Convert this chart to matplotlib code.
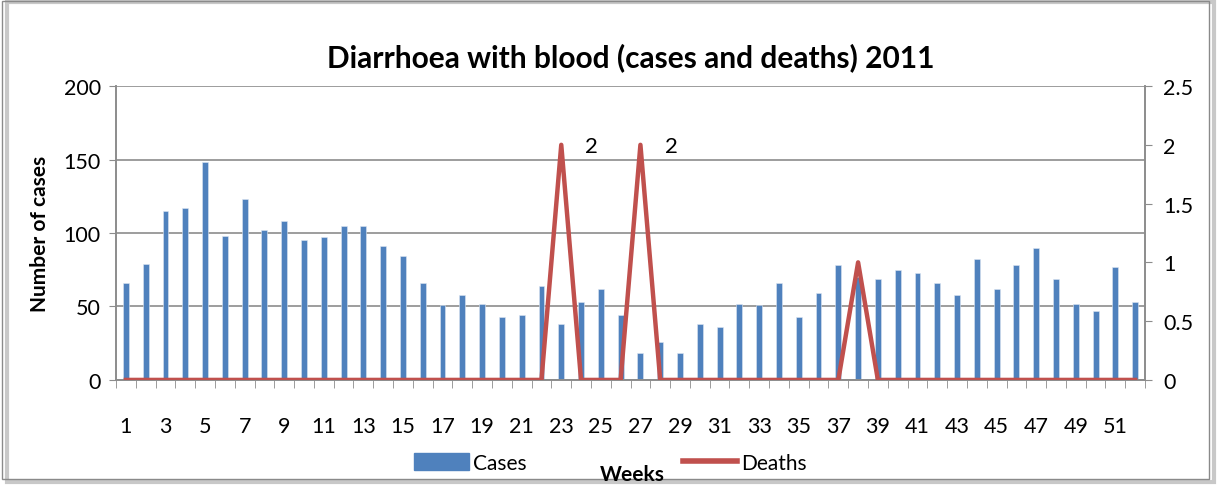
import matplotlib
matplotlib.use("Agg")
import matplotlib.pyplot as plt
import matplotlib.patches as mpatches
from matplotlib.lines import Line2D
import numpy as np

plt.rcParams["font.family"] = ["Lato", "DejaVu Sans"]

weeks = list(range(1, 53))
cases = [66, 79, 115, 117, 148, 98, 123, 102, 108, 95, 97, 105, 105, 91, 84, 66,
         51, 58, 52, 43, 44, 64, 38, 53, 62, 44, 18, 26, 18, 38, 36, 52, 51, 66,
         43, 59, 78, 70, 69, 75, 73, 66, 58, 82, 62, 78, 90, 69, 52, 47, 77, 53]
deaths = [0] * 52
deaths[22] = 2
deaths[26] = 2
deaths[37] = 1
labelled = [23, 27]

BAR = "#4F81BD"
LINE = "#C0504D"
GRID = "#8C8C8C"

fig = plt.figure(figsize=(12.21, 4.89), dpi=100)
fig.patch.set_facecolor("white")
# outer chart frame with a little shadow
fig.add_artist(mpatches.Rectangle((0.006, 0.012), 0.988, 0.982, transform=fig.transFigure,
                                  fill=False, edgecolor="#C8C8C8", linewidth=3))
fig.add_artist(mpatches.Rectangle((0.002, 0.018), 0.988, 0.978, transform=fig.transFigure,
                                  fill=False, edgecolor="#8A8A8A", linewidth=1))

ax = fig.add_axes([0.095, 0.221, 0.8428, 0.601])
ax2 = ax.twinx()

ax.bar(weeks, cases, width=0.3, color=BAR, edgecolor="#DCE6F2", linewidth=0.4, zorder=2)
ax.set_ylim(0, 200)
ax.set_xlim(0.5, 52.5)
ax.set_yticks([0, 50, 100, 150, 200])
ax.grid(axis="y", color=GRID, linewidth=1.2, zorder=0)
ax.set_axisbelow(True)

ax2.plot(weeks, deaths, color=LINE, linewidth=3.2, zorder=3)
ax2.set_ylim(0, 2.5)
ax2.set_yticks([0, 0.5, 1, 1.5, 2, 2.5])
ax2.set_yticklabels(["0", "0.5", "1", "1.5", "2", "2.5"])
for w in labelled:
    ax2.annotate(str(deaths[w - 1]), (w, deaths[w - 1]), xytext=(22, -1),
                 textcoords="offset points", ha="center", va="center", fontsize=16)

ax.set_xticks(weeks[::2])
ax.set_xticklabels([str(w) for w in weeks[::2]])
ax.set_xticks(np.arange(0.5, 53, 1), minor=True)
ax.tick_params(axis="x", which="major", length=0, pad=26, labelsize=15.5)
ax.tick_params(axis="x", which="minor", length=6, color=GRID)
ax.tick_params(axis="y", labelsize=15.5, length=5, color=GRID, pad=6)
ax2.tick_params(axis="y", labelsize=15.5, length=5, color=GRID, pad=8)

for a in (ax, ax2):
    a.spines["top"].set_visible(False)
    for s in ("left", "right", "bottom"):
        a.spines[s].set_color(GRID)
        a.spines[s].set_linewidth(1.2)

ax.set_ylabel("Number of cases", fontsize=15, fontweight="bold", labelpad=10)
ax.set_title("Diarrhoea with blood (cases and deaths) 2011", fontsize=21.5,
             fontweight="bold", pad=14)
fig.text(0.518, 0.008, "Weeks", fontsize=15, fontweight="bold", ha="center", va="bottom")

handles = [mpatches.Patch(color=BAR, label="Cases"),
           Line2D([0], [0], color=LINE, linewidth=4, label="Deaths")]
fig.legend(handles=handles, loc="center", bbox_to_anchor=(0.5, 0.052), ncol=2,
           frameon=False, fontsize=15, columnspacing=7.5, handlelength=2.6,
           handleheight=0.9, handletextpad=0.2)

fig.savefig("out.png", dpi=100)
